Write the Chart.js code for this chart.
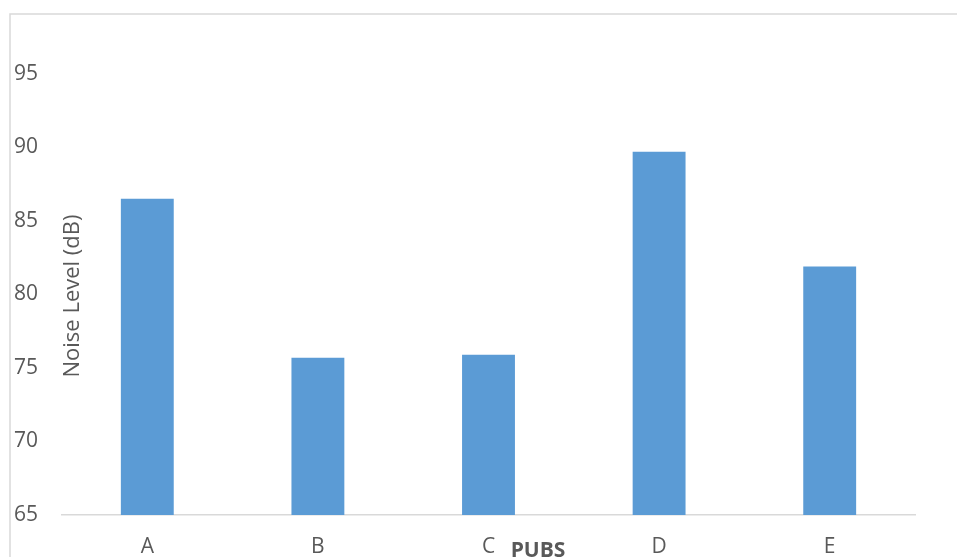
<!DOCTYPE html>
<html lang="en">
<head>
    <meta charset="UTF-8">
    <title>Noise Level by Pub</title>
    <script src="https://cdn.jsdelivr.net/npm/chart.js"></script>
    <style>
        html, body { margin: 0; padding: 0; background: #fff; }
        #wrap { width: 957px; height: 557px; }
    </style>
</head>
<body>
<div id="wrap"><canvas id="noise-chart" width="957" height="557"></canvas></div>

<script>
    // chart data
    const pubs = ['A', 'B', 'C', 'D', 'E'];
    const noiseLevels = [86.5, 75.7, 75.9, 89.7, 81.9];
    const yTicks = [65, 70, 75, 80, 85, 90, 95];

    const textColor = '#595959';
    const fontFamily = '"Open Sans", "Noto Sans", sans-serif';

    // frame lines + axis titles drawn by hand (titles sit inside the plot like the original)
    const decorations = {
        id: 'decorations',
        beforeDraw(chart) {
            const ctx = chart.ctx;
            ctx.save();
            ctx.strokeStyle = '#d9d9d9';
            ctx.lineWidth = 1.5;
            ctx.beginPath();
            ctx.moveTo(10, 557);
            ctx.lineTo(10, 14);
            ctx.lineTo(957, 14);
            ctx.stroke();
            ctx.restore();
        },
        afterDraw(chart) {
            const ctx = chart.ctx;
            ctx.save();
            ctx.fillStyle = textColor;
            ctx.font = '22px ' + fontFamily;
            ctx.textAlign = 'center';
            ctx.textBaseline = 'middle';
            ctx.translate(73, 296);
            ctx.rotate(-Math.PI / 2);
            ctx.fillText('Noise Level (dB)', 0, 0);
            ctx.restore();

            ctx.save();
            ctx.fillStyle = textColor;
            ctx.font = 'bold 21px ' + fontFamily;
            ctx.textAlign = 'center';
            ctx.textBaseline = 'alphabetic';
            ctx.fillText('PUBS', 538, 557);
            ctx.restore();
        }
    };

    new Chart(document.getElementById('noise-chart'), {
        type: 'bar',
        data: {
            labels: pubs,
            datasets: [{
                label: 'Noise Level (dB)',
                data: noiseLevels,
                backgroundColor: '#5b9bd5',
                borderWidth: 0,
                categoryPercentage: 1,
                barPercentage: 0.31
            }]
        },
        options: {
            responsive: false,
            animation: false,
            layout: { padding: { left: 14, top: 15, right: 42, bottom: 0 } },
            plugins: {
                legend: { display: false },
                tooltip: { enabled: false }
            },
            scales: {
                x: {
                    grid: { display: false, drawTicks: false },
                    border: { display: true, color: '#d9d9d9', width: 1.5 },
                    ticks: {
                        color: textColor,
                        font: { family: fontFamily, size: 21 },
                        padding: 19,
                        maxRotation: 0
                    },
                    afterFit(scale) { scale.height = 42; }
                },
                y: {
                    min: 65,
                    max: 99,
                    grid: { display: false, drawTicks: false },
                    border: { display: false },
                    ticks: {
                        color: textColor,
                        font: { family: fontFamily, size: 21 },
                        crossAlign: 'far',
                        padding: 0
                    },
                    afterBuildTicks(scale) {
                        scale.ticks = yTicks.map(v => ({ value: v }));
                    },
                    afterFit(scale) { scale.width = 48; }
                }
            }
        },
        plugins: [decorations]
    });
</script>
</body>
</html>
